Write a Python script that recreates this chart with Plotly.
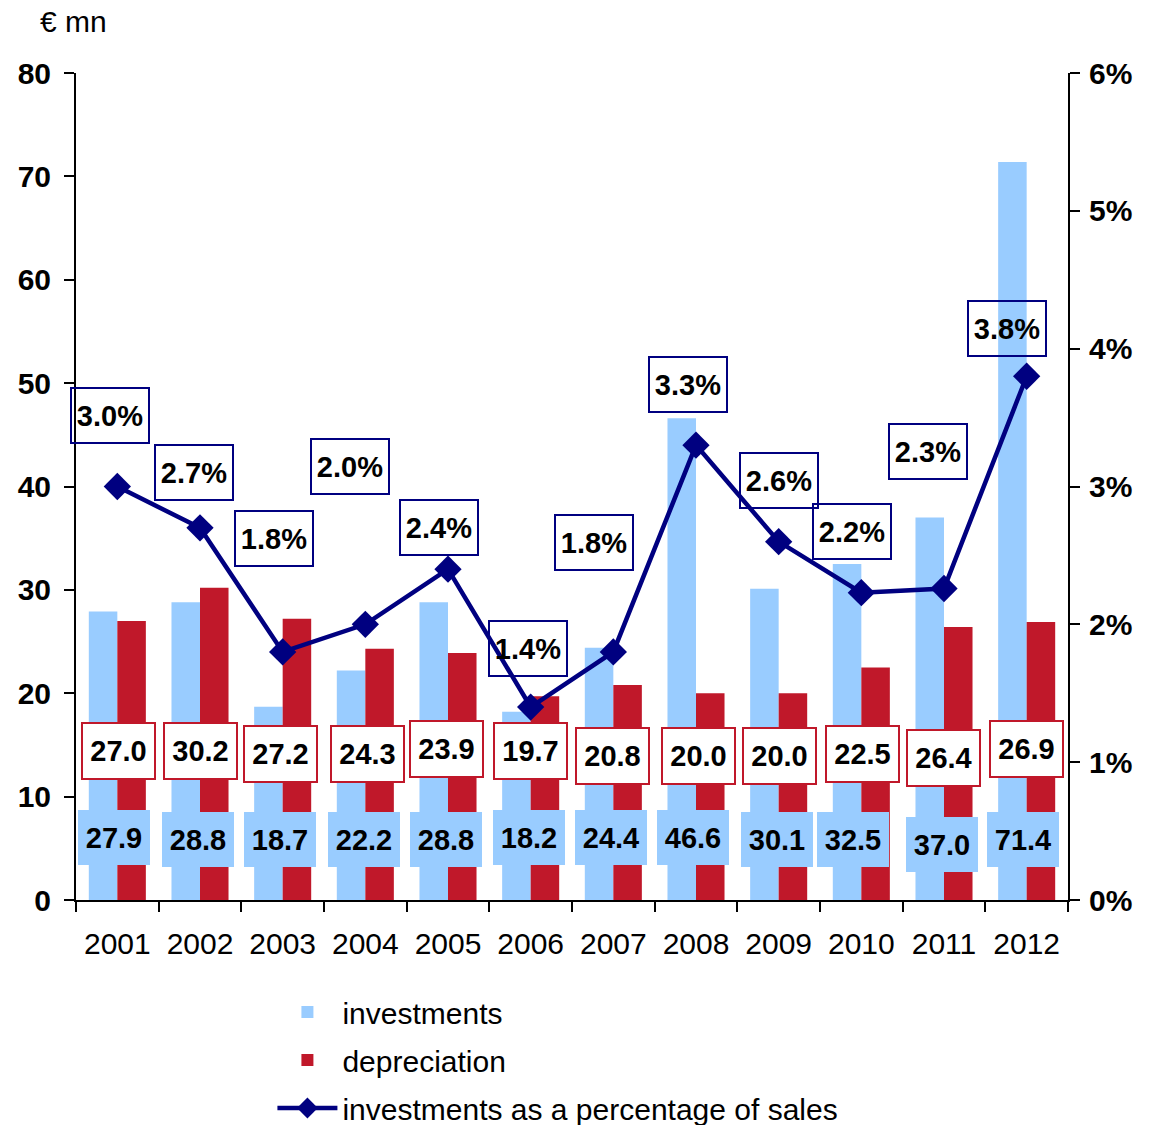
import plotly.graph_objects as go

# ---------------- data ----------------
years = ["2001", "2002", "2003", "2004", "2005", "2006",
         "2007", "2008", "2009", "2010", "2011", "2012"]
investments = [27.9, 28.8, 18.7, 22.2, 28.8, 18.2, 24.4, 46.6, 30.1, 32.5, 37.0, 71.4]
depreciation = [27.0, 30.2, 27.2, 24.3, 23.9, 19.7, 20.8, 20.0, 20.0, 22.5, 26.4, 26.9]
invest_pct = [3.0, 2.7, 1.8, 2.0, 2.4, 1.4, 1.8, 3.3, 2.6, 2.23, 2.26, 3.8]
left_ticks = [0, 10, 20, 30, 40, 50, 60, 70, 80]
right_ticks = [0, 1, 2, 3, 4, 5, 6]

# ---------------- label placement (pixel offsets) ----------------
inv_dx = [-3, -2, -3, -1, -2, -2, -2, -3, -2, -8, -2, -4]
inv_dy = [63, 61, 61, 61, 61, 63, 63, 63, 61, 61, 56, 61]
dep_dx = [1, 0, -2, 2, -2, 0, -1, 2, 1, 1, -1, 0]
dep_dy = [149, 149, 146, 146, 151, 149, 144, 144, 144, 146, 142, 151]
pct_dx = [-7, -6, -9, -15, -9, -3, -19, -8, 0, -9, -16, -20]
pct_dy = [71, 55, 113, 158, 42, 59, 109, 61, 61, 61, 137, 48]

BLUE = "#99CCFF"
RED = "#C0182A"
NAVY = "#000080"
FONT = "Arial, Liberation Sans, sans-serif"

fig = go.Figure()
fig.add_trace(go.Bar(x=years, y=investments, name="investments",
                     marker=dict(color=BLUE, line=dict(width=0)),
                     legendgroup="a"))
fig.add_trace(go.Bar(x=years, y=depreciation, name="depreciation",
                     marker=dict(color=RED, line=dict(width=0)),
                     legendgroup="b"))
fig.add_trace(go.Scatter(x=years, y=invest_pct, yaxis="y2",
                         name="investments as a percentage of sales",
                         mode="lines+markers",
                         line=dict(color=NAVY, width=4.5),
                         marker=dict(symbol="diamond", size=21, color=NAVY),
                         legendgroup="c"))

annotations = []
for i in range(len(years)):
    annotations.append(dict(
        x=i, y=0, xref="x", yref="y", xshift=inv_dx[i], yshift=inv_dy[i],
        text=f"<b>{investments[i]:.1f}</b>", showarrow=False,
        xanchor="center", yanchor="middle",
        bgcolor=BLUE, borderwidth=0, borderpad=7, width=58, height=41,
        font=dict(family=FONT, size=29, color="black")))
    annotations.append(dict(
        x=i, y=0, xref="x", yref="y", xshift=dep_dx[i], yshift=dep_dy[i],
        text=f"<b>{depreciation[i]:.1f}</b>", showarrow=False,
        xanchor="center", yanchor="middle",
        bgcolor="white", bordercolor=RED, borderwidth=2, borderpad=5,
        width=61, height=44,
        font=dict(family=FONT, size=29, color="black")))
    annotations.append(dict(
        x=i, y=invest_pct[i], xref="x", yref="y2",
        xshift=pct_dx[i], yshift=pct_dy[i],
        text=f"<b>{invest_pct[i]:.1f}%</b>", showarrow=False,
        xanchor="center", yanchor="middle",
        bordercolor=NAVY, borderwidth=2, borderpad=5,
        width=66, height=43,
        font=dict(family=FONT, size=29, color="black")))

fig.update_layout(
    width=1145, height=1117,
    margin=dict(l=68, r=85, t=65, b=225, pad=0, autoexpand=False),
    paper_bgcolor="white", plot_bgcolor="white",
    font=dict(family=FONT, size=30, color="black"),
    title=dict(text="€ mn", x=0.028, xref="container", xanchor="left",
               y=0.9875, yref="container", yanchor="middle",
               font=dict(family=FONT, size=30, color="black")),
    barmode="group", bargap=0.31, bargroupgap=0,
    annotations=annotations,
    showlegend=True,
    legend=dict(x=0.198, y=-0.104, xanchor="left", yanchor="top",
                orientation="v", traceorder="grouped", tracegroupgap=6,
                font=dict(family=FONT, size=30, color="black"),
                itemwidth=60, bgcolor="rgba(0,0,0,0)"),
    xaxis=dict(type="category", categoryorder="array", categoryarray=years,
               range=[-0.5, 11.5],
               tickson="boundaries", ticks="outside",
               ticklen=10, tickwidth=2, tickcolor="black",
               showline=True, linecolor="black", linewidth=2,
               showgrid=False, zeroline=False, tickangle=0,
               tickfont=dict(family=FONT, size=30, color="black"),
               ticklabelstandoff=16),
    xaxis2=dict(range=[-0.5, 11.5], tickvals=[v - 0.5 for v in range(13)],
                overlaying="x", anchor="y", side="bottom",
                ticks="inside", ticklen=10, tickwidth=2, tickcolor="black",
                showticklabels=False, showline=False, showgrid=False,
                zeroline=False),
    yaxis=dict(range=[0, 80], tickvals=left_ticks, ticks="outside",
               ticklen=10, tickwidth=2, tickcolor="black",
               showline=True, linecolor="black", linewidth=2,
               showgrid=False, zeroline=False,
               tickfont=dict(family=FONT, size=30, color="black", weight="bold"),
               ticklabelstandoff=7),
    yaxis2=dict(range=[0, 6], tickvals=right_ticks,
                ticktext=[f"{v}%" for v in right_ticks],
                overlaying="y", side="right", anchor="x",
                ticks="outside", ticklen=10, tickwidth=2, tickcolor="black",
                showline=True, linecolor="black", linewidth=2,
                showgrid=False, zeroline=False,
                tickfont=dict(family=FONT, size=30, color="black", weight="bold"),
                ticklabelstandoff=3),
    yaxis3=dict(range=[0, 80], tickvals=left_ticks, overlaying="y",
                side="left", anchor="x", ticks="inside", ticklen=11,
                tickwidth=2, tickcolor="black", showticklabels=False,
                showline=False, showgrid=False, zeroline=False),
    yaxis4=dict(range=[0, 6], tickvals=right_ticks, overlaying="y",
                side="right", anchor="x", ticks="inside", ticklen=10,
                tickwidth=2, tickcolor="black", showticklabels=False,
                showline=False, showgrid=False, zeroline=False),
)

fig.write_html("out.html")
